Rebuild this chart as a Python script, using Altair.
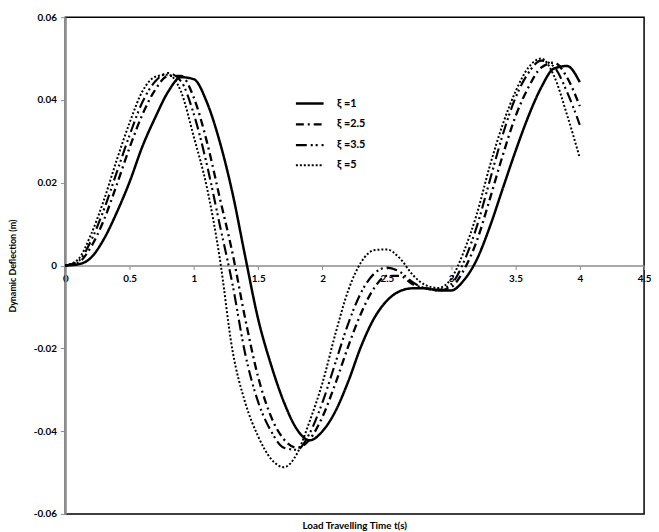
import altair as alt
import pandas as pd

# time samples (s)
t_vals = [0.0, 0.1, 0.2, 0.3, 0.4, 0.5, 0.6, 0.7, 0.8, 0.9,
          1.0, 1.1, 1.2, 1.3, 1.4, 1.5, 1.6, 1.7, 1.8, 1.9,
          2.0, 2.1, 2.2, 2.3, 2.4, 2.5, 2.6, 2.7, 2.8, 2.9,
          3.0, 3.1, 3.2, 3.3, 3.4, 3.5, 3.6, 3.7, 3.8, 3.9, 4.0]

# dynamic deflection (m) for each damping value
y_xi1 = [0.0, 0.0003, 0.0019, 0.0064, 0.0128, 0.0202, 0.0288, 0.0358, 0.0420, 0.0455,
         0.0450, 0.0395, 0.0300, 0.0175, 0.0020, -0.0130, -0.0240, -0.0330, -0.0395, -0.0422,
         -0.0400, -0.0352, -0.0280, -0.0195, -0.0128, -0.0085, -0.0062, -0.0055, -0.0055, -0.0060,
         -0.0060, -0.0035, 0.0015, 0.0093, 0.0185, 0.0276, 0.0360, 0.0430, 0.0476, 0.0482, 0.0443]
y_xi25 = [0.0, 0.0007, 0.0045, 0.0110, 0.0195, 0.0285, 0.0365, 0.0425, 0.0458, 0.0458,
          0.0405, 0.0300, 0.0165, 0.0030, -0.0130, -0.0270, -0.0365, -0.0420, -0.0440, -0.0420,
          -0.0365, -0.0285, -0.0195, -0.0115, -0.0055, -0.0025, -0.0025, -0.0045, -0.0055, -0.0060,
          -0.0052, -0.0010, 0.0060, 0.0160, 0.0265, 0.0360, 0.0430, 0.0478, 0.0490, 0.0455, 0.0385]
y_xi35 = [0.0, 0.0010, 0.0060, 0.0135, 0.0225, 0.0315, 0.0395, 0.0445, 0.0465, 0.0445,
          0.0365, 0.0245, 0.0100, -0.0045, -0.0215, -0.0330, -0.0400, -0.0440, -0.0445, -0.0405,
          -0.0330, -0.0235, -0.0140, -0.0065, -0.0020, -0.0005, -0.0015, -0.0040, -0.0055, -0.0058,
          -0.0045, 0.0010, 0.0095, 0.0205, 0.0315, 0.0405, 0.0465, 0.0495, 0.0480, 0.0420, 0.0340]
y_xi5 = [0.0, 0.0015, 0.0075, 0.0158, 0.0255, 0.0345, 0.0421, 0.0456, 0.0461, 0.0420,
         0.0310, 0.0190, 0.0020, -0.0205, -0.0332, -0.0413, -0.0467, -0.0487, -0.0455, -0.0376,
         -0.0283, -0.0165, -0.0060, 0.0008, 0.0037, 0.0039, 0.0018, -0.0022, -0.0047, -0.0054,
         -0.0032, 0.0035, 0.0125, 0.0240, 0.0340, 0.0420, 0.0478, 0.0500, 0.0458, 0.0365, 0.0260]

series_labels = ["ξ =1", "ξ =2.5", "ξ =3.5", "ξ =5"]
x_ticks = [0, 0.5, 1, 1.5, 2, 2.5, 3, 3.5, 4, 4.5]
y_ticks = [-0.06, -0.04, -0.02, 0, 0.02, 0.04, 0.06]

rows = []
for lab, ys in zip(series_labels, [y_xi1, y_xi25, y_xi35, y_xi5]):
    for t, y in zip(t_vals, ys):
        rows.append({"t": t, "y": y, "series": lab})
df = pd.DataFrame(rows)

FONT = "Lato"
W, H = 586, 503

dashes = [[1, 0], [8, 4, 2, 4], [11, 4, 2, 3, 2, 4], [2, 2]]
widths = [2.5, 2.0, 2.8, 2.2]

chart = alt.Chart(df).mark_line(interpolate="monotone", color="black").encode(
    x=alt.X("t:Q",
            scale=alt.Scale(domain=[0, 4.5], nice=False, zero=False),
            axis=alt.Axis(values=x_ticks, labelExpr="'' + datum.value", offset=-H / 2,
                          title=None, grid=False, domainColor="#8c8c8c", domainWidth=1.5,
                          tickColor="#8c8c8c", tickSize=4, tickWidth=1,
                          labelFont=FONT, labelFontSize=10, labelFontWeight="bold",
                          labelColor="black", labelPadding=4, labelFlush=False,
                          labelOverlap=False)),
    y=alt.Y("y:Q",
            scale=alt.Scale(domain=[-0.06, 0.06], nice=False),
            axis=alt.Axis(values=y_ticks,
                          labelExpr="datum.value == 0 ? '0' : (datum.value < 0 ? '-' + format(-datum.value, '.2f') : format(datum.value, '.2f'))",
                          title="Dynamic Deflection (m)", titleFont=FONT, titleFontSize=9,
                          titleFontWeight="bold", titleColor="black", titleX=-53,
                          titleBaseline="middle",
                          grid=False, domainColor="#8c8c8c", domainWidth=2,
                          tickColor="#8c8c8c", tickSize=5, tickWidth=1,
                          labelFont=FONT, labelFontSize=10, labelFontWeight="bold",
                          labelColor="black", labelPadding=4)),
    strokeDash=alt.StrokeDash("series:N",
                              scale=alt.Scale(domain=series_labels, range=dashes),
                              legend=alt.Legend(title=None, orient="none", legendX=232, legendY=72,
                                                symbolType="stroke", symbolSize=784,
                                                symbolStrokeColor="black", symbolStrokeWidth=2.2,
                                                labelFont=FONT, labelFontSize=11,
                                                labelFontWeight="bold", labelColor="black",
                                                labelOffset=12, rowPadding=-6)),
    strokeWidth=alt.StrokeWidth("series:N",
                                scale=alt.Scale(domain=series_labels, range=widths),
                                legend=None),
).properties(
    width=W, height=H,
    autosize=alt.AutoSizeParams(type="none"),
    padding={"left": 58, "top": 6, "right": 7, "bottom": 16},
    title=alt.TitleParams("Load Travelling Time t(s)", orient="bottom", anchor="middle",
                          font=FONT, fontSize=10, fontWeight="bold", color="black", offset=2),
).configure_view(stroke="black", strokeWidth=1.5)

chart.save("out.html", embed_options={"renderer": "svg", "actions": False})
